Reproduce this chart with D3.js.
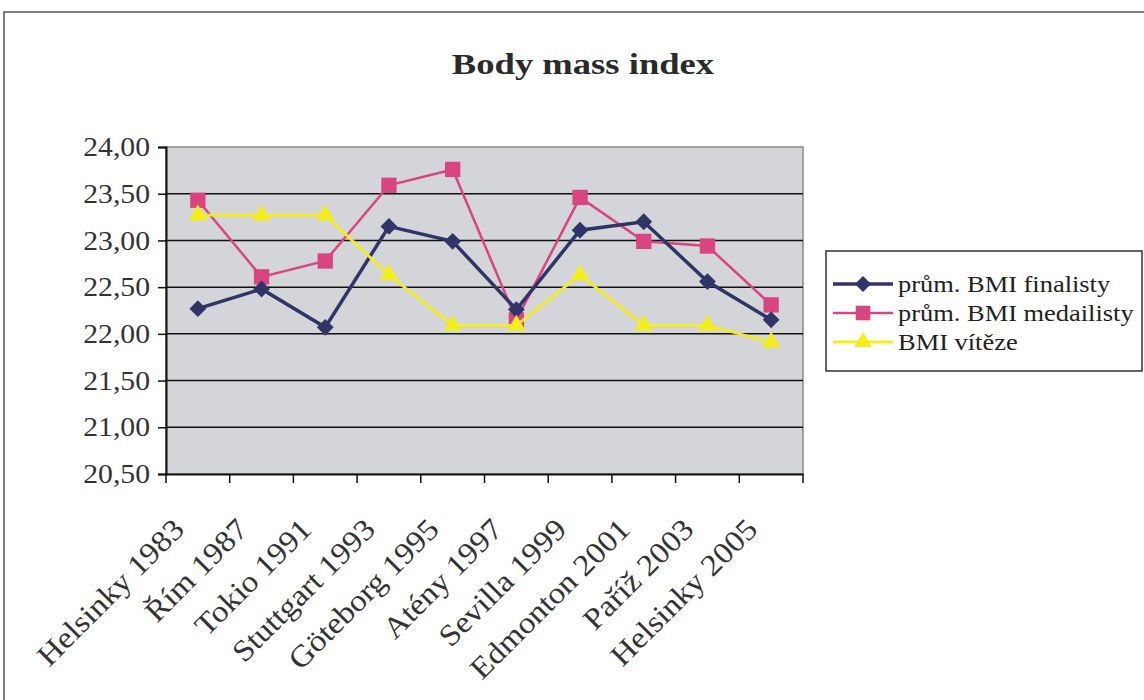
<!DOCTYPE html>
<html><head><meta charset="utf-8">
<script src="https://cdn.jsdelivr.net/npm/d3@7"></script>
<style>html,body{margin:0;padding:0;background:#fff;}svg{display:block;}</style>
</head><body>
<svg id="c" width="1144" height="700"></svg>
<script>
const categories = ["Helsinky 1983","Řím 1987","Tokio 1991","Stuttgart 1993","Göteborg 1995","Atény 1997","Sevilla 1999","Edmonton 2001","Paříž 2003","Helsinky 2005"];
const finalists = [22.27, 22.48, 22.07, 23.15, 22.99, 22.26, 23.11, 23.20, 22.56, 22.15];
const medalists = [23.43, 22.61, 22.78, 23.59, 23.76, 22.15, 23.46, 22.99, 22.94, 22.31];
const winners   = [23.27, 23.27, 23.27, 22.63, 22.09, 22.09, 22.63, 22.09, 22.09, 21.91];
const yTicks = [20.5, 21, 21.5, 22, 22.5, 23, 23.5, 24];
const seriesNames = ["prům. BMI finalisty", "prům. BMI medailisty", "BMI  vítěze"];

const svg = d3.select("#c");
const font = "'Liberation Serif','Times New Roman',serif";
const L = 166, R = 803, T = 147, B = 474;

// outer frame
svg.append("path").attr("d","M4,700 V12 H1144").attr("fill","none").attr("stroke","#555").attr("stroke-width",1.5);

// title
svg.append("text").attr("transform","translate(583,74) scale(1.22,1)").attr("text-anchor","middle")
  .attr("font-family",font).attr("font-weight","bold").attr("font-size",30).attr("fill","#2a2a2a")
  .text("Body mass index");

const x = d3.scaleBand().domain(categories).range([L,R]);
const y = d3.scaleLinear().domain([20.5,24]).range([B,T]);

svg.append("rect").attr("x",L).attr("y",T).attr("width",R-L).attr("height",B-T)
  .attr("fill","#d3d5d8").attr("stroke","#8a8a8a").attr("stroke-width",1.5);

// gridlines
svg.append("g").selectAll("line").data(yTicks.slice(1,-1)).join("line")
  .attr("x1",L).attr("x2",R).attr("y1",d=>y(d)).attr("y2",d=>y(d))
  .attr("stroke","#111").attr("stroke-width",1.5);

const fmt = d => d.toFixed(2).replace(".",",");
const yAxis = svg.append("g").attr("transform",`translate(${L},0)`)
  .call(d3.axisLeft(y).tickValues(yTicks).tickFormat(fmt).tickSize(8));
yAxis.select(".domain").attr("stroke","#111").attr("stroke-width",2);
yAxis.selectAll(".tick line").attr("stroke","#111").attr("stroke-width",1.5);
yAxis.selectAll("text").attr("x",null).attr("transform","translate(-16,0) scale(1.1,1)")
  .attr("font-family",font).attr("font-size",27).attr("fill","#333");

const xAxis = svg.append("g").attr("transform",`translate(0,${B})`)
  .call(d3.axisBottom(x).tickSize(0).tickFormat(""));
xAxis.select(".domain").attr("stroke","#111").attr("stroke-width",2);
// category boundary ticks
const bounds = categories.map(c=>x(c)).concat([R]);
svg.append("g").selectAll("line").data(bounds).join("line")
  .attr("x1",d=>d).attr("x2",d=>d).attr("y1",B).attr("y2",B+9)
  .attr("stroke","#111").attr("stroke-width",1.5);
// rotated labels
svg.append("g").selectAll("text").data(categories).join("text")
  .attr("transform",d=>`translate(${x(d)+x.bandwidth()/2-12},${B+57}) rotate(-45) scale(1.1,1)`)
  .attr("text-anchor","end")
  .attr("font-family",font).attr("font-size",30).attr("fill","#333")
  .text(d=>d);

const cx = d => x(d)+x.bandwidth()/2;
const line = d3.line().x((v,i)=>cx(categories[i])).y(v=>y(v));

const series = [
  {vals: finalists, color:"#2f3566", w:3.5, sym:d3.symbolDiamond2, size:180},
  {vals: medalists, color:"#d8457f", w:2.5, sym:d3.symbolSquare, size:235},
  {vals: winners, color:"#f3ee1e", w:2.8, sym:d3.symbolTriangle, size:150},
];
[series[1],series[0],series[2]].forEach(s=>{
  svg.append("path").attr("d",line(s.vals)).attr("fill","none").attr("stroke",s.color).attr("stroke-width",s.w);
  svg.append("g").selectAll("path").data(s.vals).join("path")
    .attr("transform",(v,i)=>`translate(${cx(categories[i])},${y(v)})`)
    .attr("d",d3.symbol().type(s.sym).size(s.size)).attr("fill",s.color);
});

// legend
const lg = svg.append("g");
lg.append("rect").attr("x",826).attr("y",251).attr("width",316).attr("height",120)
  .attr("fill","#fff").attr("stroke","#333").attr("stroke-width",1.5);
series.forEach((s,i)=>{
  const yy = 284 + i*29;
  lg.append("line").attr("x1",833).attr("x2",893).attr("y1",yy).attr("y2",yy).attr("stroke",s.color).attr("stroke-width",s.w);
  lg.append("path").attr("transform",`translate(863,${yy})`).attr("d",d3.symbol().type(s.sym).size(s.size*0.9)).attr("fill",s.color);
  lg.append("text").attr("transform",`translate(898,${yy}) scale(1.15,1)`).attr("dy","0.33em")
    .attr("font-family",font).attr("font-size",23).attr("fill","#222")
    .text(seriesNames[i]);
});
</script>
</body></html>
